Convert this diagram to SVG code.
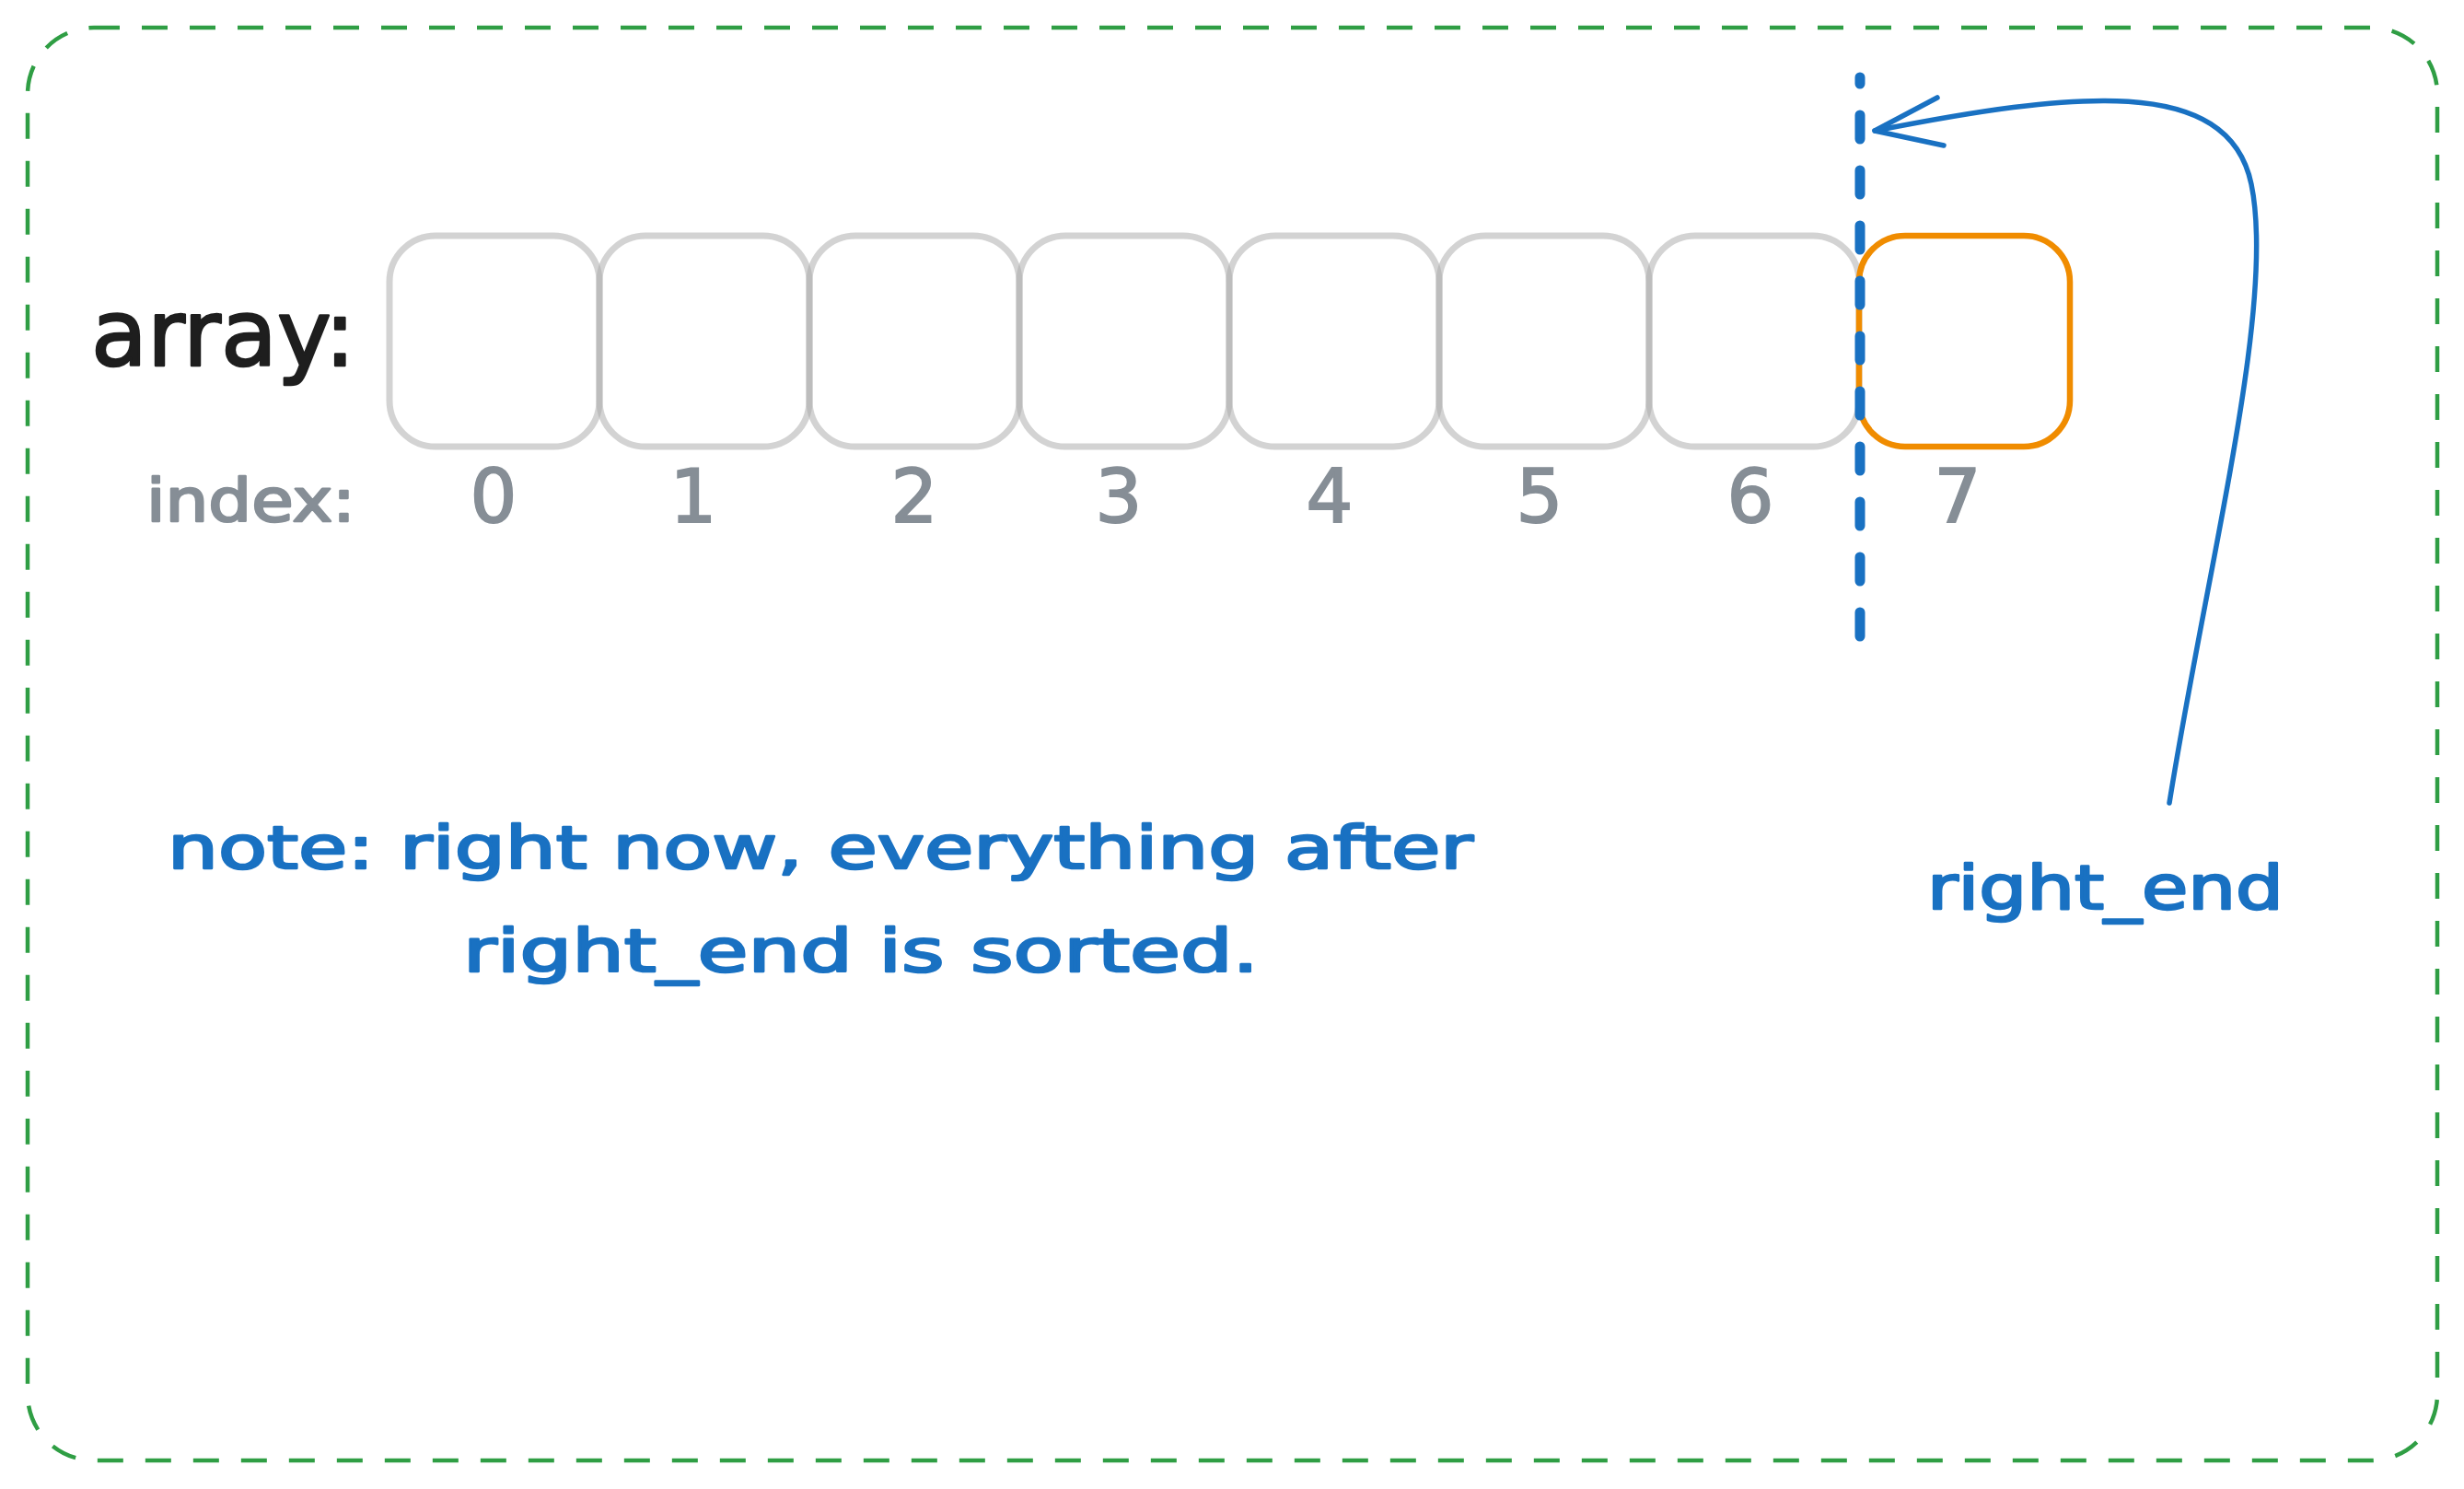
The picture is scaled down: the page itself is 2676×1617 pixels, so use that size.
<svg xmlns="http://www.w3.org/2000/svg" width="2676" height="1617" viewBox="0 0 2676 1617">
<style>
.cell{fill:none;stroke:#a8a8a8;stroke-opacity:0.5;stroke-width:7}
.hl{fill:none;stroke:#f08c00;stroke-width:6.5}
.txt{font-family:"DejaVu Sans","Liberation Sans",sans-serif;stroke-width:2.5;stroke-linejoin:round}
.idx{font-family:"DejaVu Sans","Liberation Sans",sans-serif;font-size:80px;fill:#868e96;stroke:#868e96;stroke-width:2;text-anchor:middle}
.blue{fill:#1971c2;stroke:#1971c2}
.conn{fill:none;stroke:#1971c2;stroke-linecap:round;stroke-linejoin:round}
</style>
<rect width="2676" height="1617" fill="#ffffff"/>
<g id="frame">
<rect x="30" y="30" width="2617" height="1556" rx="72" ry="72" fill="none" stroke="#2f9e44" stroke-width="4.5" stroke-dasharray="28 24"/>
</g>
<g id="label-array"><text class="txt" x="99" y="397" font-size="100" fill="#1e1e1e" stroke="#1e1e1e" stroke-width="4" textLength="287" lengthAdjust="spacingAndGlyphs">array:</text></g>
<g id="cell-0"><rect class="cell" x="423" y="256" width="228" height="229" rx="50"/></g>
<g id="cell-1"><rect class="cell" x="651" y="256" width="228" height="229" rx="50"/></g>
<g id="cell-2"><rect class="cell" x="879" y="256" width="228" height="229" rx="50"/></g>
<g id="cell-3"><rect class="cell" x="1107" y="256" width="228" height="229" rx="50"/></g>
<g id="cell-4"><rect class="cell" x="1335" y="256" width="228" height="229" rx="50"/></g>
<g id="cell-5"><rect class="cell" x="1563" y="256" width="228" height="229" rx="50"/></g>
<g id="cell-6"><rect class="cell" x="1791" y="256" width="228" height="229" rx="50"/></g>
<g id="cell-7"><rect class="hl" x="2019" y="256" width="229" height="229" rx="50"/></g>
<g id="label-index"><text class="txt" x="159" y="566" font-size="64" fill="#868e96" stroke="#868e96" textLength="227" lengthAdjust="spacingAndGlyphs">index:</text></g>
<g id="indices">
<text class="idx" x="536" y="567">0</text>
<text class="idx" x="753" y="567">1</text>
<text class="idx" x="993" y="567">2</text>
<text class="idx" x="1215" y="567">3</text>
<text class="idx" x="1444" y="567">4</text>
<text class="idx" x="1672" y="567">5</text>
<text class="idx" x="1901" y="567">6</text>
<text class="idx" x="2126" y="567">7</text>
</g>
<g id="divider"><line class="conn" x1="2020" y1="84" x2="2020" y2="691" stroke-width="11" stroke-dasharray="26 34" stroke-dashoffset="19"/></g>
<g id="connectors">
<path class="conn" stroke-width="5.5" d="M2356,872 C2398,610 2472,330 2445,200 C2420,80 2250,100 2036,142"/>
<path class="conn" stroke-width="5.5" d="M2104,106 L2036,142 L2111,158"/>
</g>
<g id="label-right-end"><text class="txt blue" x="2093" y="987" font-size="66" textLength="387" lengthAdjust="spacingAndGlyphs">right_end</text></g>
<g id="note">
<text class="txt blue" x="182" y="943" font-size="64" textLength="1418" lengthAdjust="spacingAndGlyphs">note: right now, everything after</text>
<text class="txt blue" x="503" y="1055" font-size="64" textLength="864" lengthAdjust="spacingAndGlyphs">right_end is sorted.</text>
</g>
</svg>
